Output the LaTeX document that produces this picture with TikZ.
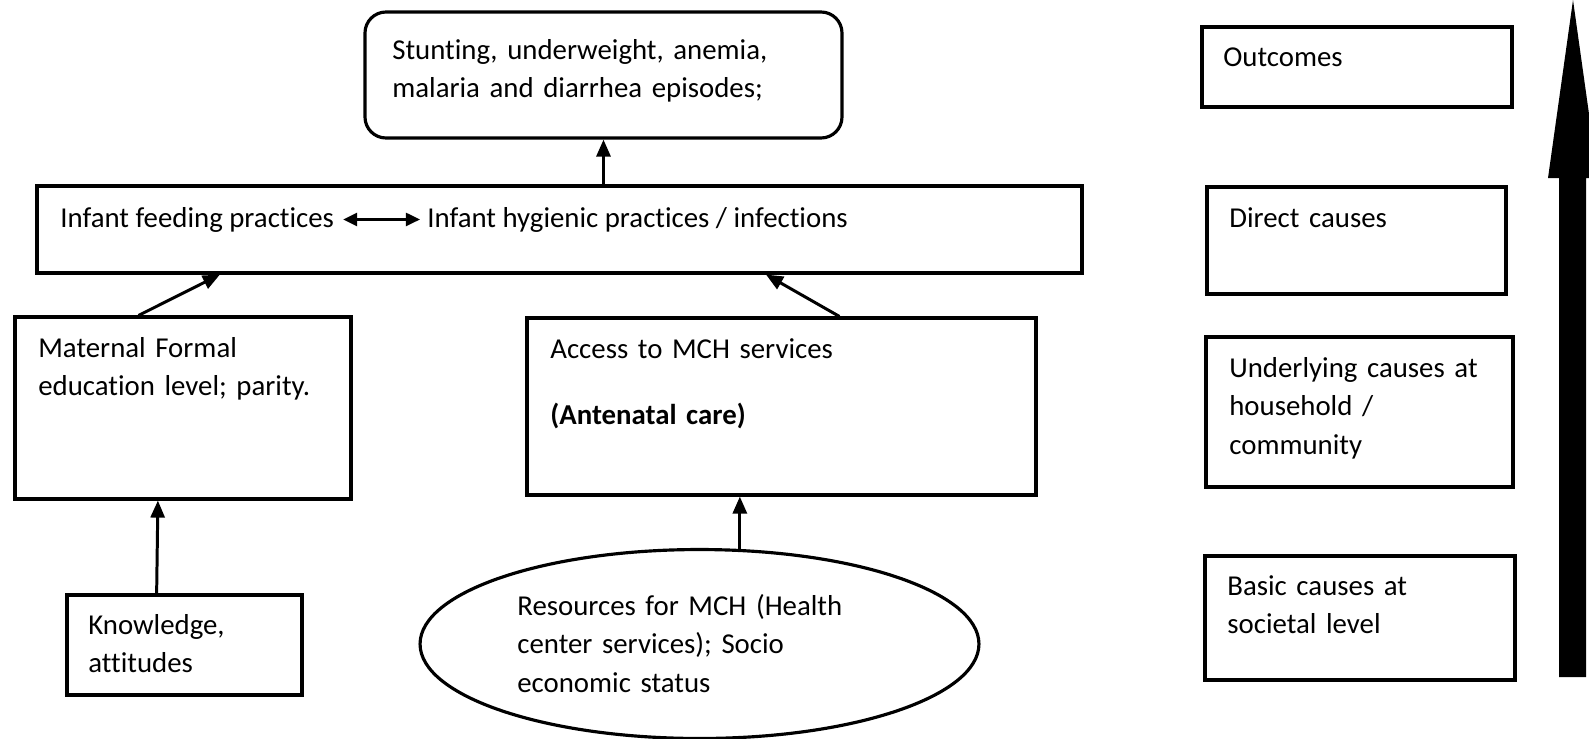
\documentclass[tikz,border=0pt]{standalone}
\usepackage{fontspec}
\setmainfont{Carlito}[Ligatures=NoCommon]
\usetikzlibrary{arrows.meta, shapes.geometric, fit, calc, positioning}

\begin{document}
\begin{tikzpicture}[x=0.02cm, y=-0.02cm,
    box/.style={draw, line width=1.8pt, inner sep=0},
    lbl/.style={anchor=base west, inner sep=0, align=left, text width=9cm,
      font=\fontsize{16.4}{22}\selectfont},
    arr/.style={line width=1.7pt, -{Triangle[length=0.34cm, width=0.28cm]}},
    twoway/.style={line width=1.4pt, {Triangle[length=0.28cm, width=0.26cm]}-{Triangle[length=0.28cm, width=0.26cm]}}]
  % frame of the picture
    \useasboundingbox (0,0) rectangle (1589,738);

  % boxes
    \node[box, rounded corners=0.42cm, fit={(365,12) (842,138)}] (out) {};
    \node[box, fit={(37,186) (1082,273)}] (direct) {};
    \node[box, fit={(15,317) (351,499)}] (mat) {};
    \node[box, fit={(527,318) (1036,495)}] (mch) {};
    \node[box, fit={(67,595) (302,695)}] (know) {};
    \node[box, ellipse, minimum width=11.18cm, minimum height=3.78cm] (res) at (699.5,644) {};

    \node[box, fit={(1202,27) (1512,107)}] (lvlA) {};
    \node[box, fit={(1207,187) (1506,294)}] (lvlB) {};
    \node[box, fit={(1206,337) (1513,487)}] (lvlC) {};
    \node[box, fit={(1205,556) (1515,680)}] (lvlD) {};

  % texts
    \node[lbl] (outT) at (392,59) {Stunting, underweight, anemia,\\ malaria and diarrhea episodes;};
    \node[lbl, text width=] (feed) at (60,227) {Infant feeding practices};
    \node[lbl, text width=] (hyg) at (427,227) {Infant hygienic practices / infections};
    \node[lbl] (matT) at (38,357) {Maternal Formal\\ education level; parity.};
    \node[lbl] (mchT) at (550,358) {Access to MCH services\\[0.56cm] \textbf{(Antenatal care)}};
    \node[lbl] (knowT) at (88,634) {Knowledge,\\ attitudes};
    \node[lbl] (resT) at (517,615) {Resources for MCH (Health\\ center services); Socio\\ economic status};

    \node[lbl] (lvlAT) at (1223,66) {Outcomes};
    \node[lbl] (lvlBT) at (1229,227) {Direct causes};
    \node[lbl] (lvlCT) at (1229,377) {Underlying causes at\\ household /\\ community};
    \node[lbl] (lvlDT) at (1227,595) {Basic causes at\\ societal level};

  % arrows
    \draw[twoway] ([xshift=5pt]feed.east) -- ([xshift=-4pt]hyg.west);
    \draw[arr] (direct.north -| out.south) -- (out.south);
    \draw[arr] ($(mat.north west)!0.369!(mat.north east)$) -- ($(direct.south west)!0.176!(direct.south east)$);
    \draw[arr] ($(mch.north west)!0.613!(mch.north east)$) -- ($(direct.south west)!0.697!(direct.south east)$);
    \draw[arr] ($(know.north west)!0.383!(know.north east)$) -- ($(mat.south west)!0.426!(mat.south east)$);
    \draw[arr] (res.67) -- (res.67 |- mch.south);

  % big upward arrow
    \fill (1559,677) -- (1559,178) -- (1548,178) -- (1573,0) -- (1598,178)
      -- (1586,178) -- (1586,677) -- cycle;
\end{tikzpicture}
\end{document}
